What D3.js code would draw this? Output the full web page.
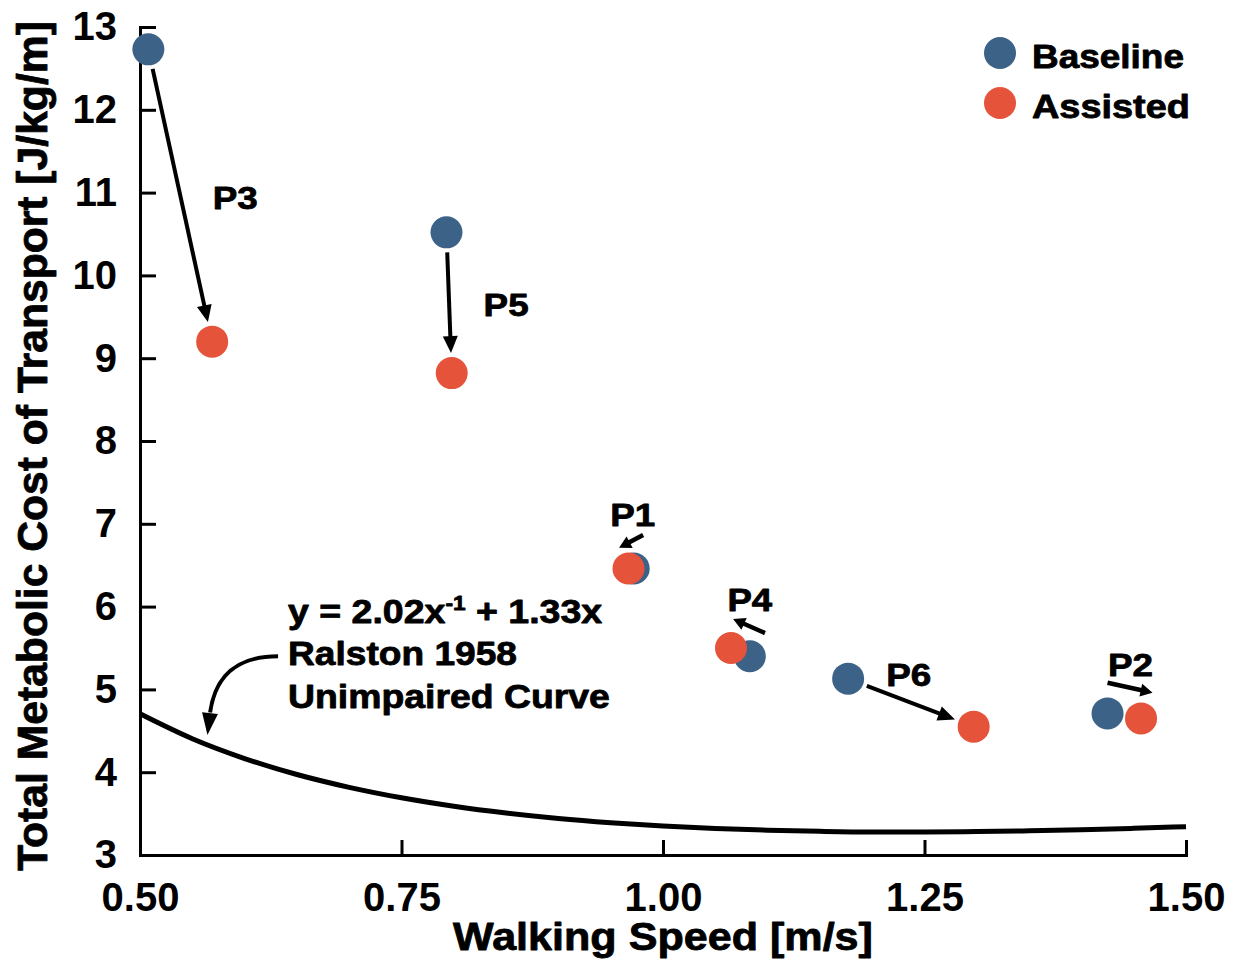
<!DOCTYPE html>
<html>
<head>
<meta charset="utf-8">
<script src="https://cdn.jsdelivr.net/npm/d3@7"></script>
<style>
  html, body { margin: 0; padding: 0; background: #fff; }
  svg { display: block; font-family: "Liberation Sans", Arial, sans-serif; font-weight: bold; }
</style>
</head>
<body>
<svg id="chart" width="1244" height="973"></svg>
<script>
// ---- data ----
const participants   = ["P1", "P2", "P3", "P4", "P5", "P6"];
const baselineSpeed  = [0.972, 1.425, 0.508, 1.083, 0.793, 1.177];
const baselineCOT    = [6.46, 4.71, 12.73, 5.40, 10.52, 5.13];
const assistedSpeed  = [0.967, 1.457, 0.569, 1.065, 0.798, 1.297];
const assistedCOT    = [6.46, 4.65, 9.20, 5.50, 8.82, 4.55];
const connectArrow   = [false, false, true, false, true, true];

// Ralston 1958 unimpaired curve, read along the speed axis
const curveSpeed = [0.50, 0.55, 0.60, 0.65, 0.70, 0.75, 0.80, 0.85, 0.90, 0.95, 1.00,
                    1.05, 1.10, 1.15, 1.20, 1.25, 1.30, 1.35, 1.40, 1.45, 1.50];
const curveCOT   = [4.705, 4.404, 4.165, 3.972, 3.817, 3.691, 3.589, 3.507, 3.441, 3.390, 3.350,
                    3.320, 3.299, 3.286, 3.279, 3.279, 3.283, 3.292, 3.305, 3.322, 3.342];

const xTicks = [0.50, 0.75, 1.00, 1.25, 1.50];
const yTicks = [3, 4, 5, 6, 7, 8, 9, 10, 11, 12, 13];
const seriesNames = ["Baseline", "Assisted"];

// label annotations (data units)
const labelSpeed = [0.971, 1.447, 0.591, 1.083, 0.850, 1.235];
const labelCOT   = [6.99, 5.17, 10.81, 5.96, 9.52, 5.05];
// small direction arrows for overlapping pairs (data units)
const dirArrows = [
  {p: "P1", x0: 0.981, y0: 6.865, x1: 0.958, y1: 6.71},
  {p: "P2", x0: 1.425, y0: 5.08,  x1: 1.468, y1: 4.96},
  {p: "P4", x0: 1.0975, y0: 5.68, x1: 1.067, y1: 5.85}
];

// ---- setup ----
const colors = {Baseline: "#3d6287", Assisted: "#e4533a"};
const svg = d3.select("#chart");
const x = d3.scaleLinear().domain([0.5, 1.5]).range([140, 1186]);
const y = d3.scaleLinear().domain([3, 13]).range([855, 27]);

function stretchText(g, target) {
  const t = g.select("text").node();
  const w = t.getBBox().width;
  const k = target / w;
  const tr = g.attr("data-tr");
  g.attr("transform", tr + ` scale(${k},1)`);
}
function heavy(t, w) {
  return t.attr("stroke", "#000").attr("stroke-width", w).attr("stroke-linejoin", "round");
}

// ---- axes ----
const xAxis = svg.append("g").attr("transform", `translate(0,${y(3)})`)
  .call(d3.axisBottom(x).tickValues(xTicks).tickFormat(d3.format(".2f"))
        .tickSizeInner(-15).tickSizeOuter(0).tickPadding(28));
const yAxis = svg.append("g").attr("transform", `translate(${x(0.5)},0)`)
  .call(d3.axisLeft(y).tickValues(yTicks).tickFormat(d3.format("d"))
        .tickSizeInner(-16).tickSizeOuter(0).tickPadding(23));
[xAxis, yAxis].forEach(a => {
  a.attr("font-family", null).attr("font-size", null);
  a.select(".domain").attr("stroke", "#000").attr("stroke-width", 3).attr("stroke-linecap", "square");
  a.selectAll(".tick line").attr("stroke", "#000").attr("stroke-width", 3);
  a.selectAll(".tick text").attr("fill", "#000").style("font-size", "40px").style("font-weight", "bold");
});

// axis titles
{
  const g = svg.append("g").attr("data-tr", `translate(${x(1.0)},950)`);
  heavy(g.append("text").attr("text-anchor", "middle").style("font-size", "38px").text("Walking Speed [m/s]"), 0.8);
  stretchText(g, 420);
}
{
  const g = svg.append("g").attr("data-tr", `translate(47,${(y(3) + y(13)) / 2 + 5}) rotate(-90)`);
  heavy(g.append("text").attr("text-anchor", "middle").style("font-size", "43px")
    .text("Total Metabolic Cost of Transport [J/kg/m]"), 0.8);
  stretchText(g, 850);
}

// ---- Ralston curve ----
const curvePts = curveSpeed.map((s, i) => [s, curveCOT[i]]);
svg.append("path")
  .attr("d", d3.line().x(d => x(d[0])).y(d => y(d[1])).curve(d3.curveMonotoneX)(curvePts))
  .attr("fill", "none").attr("stroke", "#000").attr("stroke-width", 5);

// ---- arrow helper ----
function arrow(x0, y0, x1, y1, headLen, headW, sw) {
  const dx = x1 - x0, dy = y1 - y0, L = Math.hypot(dx, dy);
  const ux = dx / L, uy = dy / L;
  const bx = x1 - ux * headLen, by = y1 - uy * headLen;
  svg.append("line").attr("x1", x0).attr("y1", y0).attr("x2", bx + ux * 2).attr("y2", by + uy * 2)
    .attr("stroke", "#000").attr("stroke-width", sw);
  const px = -uy, py = ux;
  svg.append("path")
    .attr("d", `M${x1},${y1}L${bx + px * headW / 2},${by + py * headW / 2}L${bx - px * headW / 2},${by - py * headW / 2}Z`)
    .attr("fill", "#000");
}

// connecting arrows baseline -> assisted
participants.forEach((p, i) => {
  if (!connectArrow[i]) return;
  const bx = x(baselineSpeed[i]), by = y(baselineCOT[i]);
  const ax = x(assistedSpeed[i]), ay = y(assistedCOT[i]);
  const L = Math.hypot(ax - bx, ay - by), ux = (ax - bx) / L, uy = (ay - by) / L;
  arrow(bx + ux * 20, by + uy * 20, ax - ux * 20, ay - uy * 20, 17, 15, 4);
});
// small direction arrows
dirArrows.forEach(a => arrow(x(a.x0), y(a.y0), x(a.x1), y(a.y1), 12, 13, 4.5));

// ---- points ----
svg.append("g").selectAll("circle").data(participants).join("circle")
  .attr("cx", (d, i) => x(baselineSpeed[i])).attr("cy", (d, i) => y(baselineCOT[i]))
  .attr("r", 16).attr("fill", colors.Baseline);
svg.append("g").selectAll("circle").data(participants).join("circle")
  .attr("cx", (d, i) => x(assistedSpeed[i])).attr("cy", (d, i) => y(assistedCOT[i]))
  .attr("r", 16).attr("fill", colors.Assisted);

// participant labels
participants.forEach((p, i) => {
  const g = svg.append("g").attr("data-tr", `translate(${x(labelSpeed[i])},${y(labelCOT[i]) + 1})`);
  heavy(g.append("text").attr("text-anchor", "middle").style("font-size", "32px").text(p), 0.8);
  stretchText(g, 45);
});

// ---- Ralston annotation ----
{
  const ax = 0.6415;
  const g1 = svg.append("g").attr("data-tr", `translate(${x(ax)},${y(5.80)})`);
  const t = heavy(g1.append("text").style("font-size", "33px"), 0.8);
  t.append("tspan").text("y = 2.02x");
  t.append("tspan").attr("dy", -13).style("font-size", "20px").text("-1");
  t.append("tspan").attr("dy", 13).text(" + 1.33x");
  stretchText(g1, 315);
  const g2 = svg.append("g").attr("data-tr", `translate(${x(ax)},${y(5.295)})`);
  heavy(g2.append("text").style("font-size", "33px").text("Ralston 1958"), 0.8);
  stretchText(g2, 229);
  const g3 = svg.append("g").attr("data-tr", `translate(${x(ax)},${y(4.775)})`);
  heavy(g3.append("text").style("font-size", "33px").text("Unimpaired Curve"), 0.8);
  stretchText(g3, 322);

  // curved pointer
  const p0 = [x(0.632), y(5.40)], c1 = [x(0.601), y(5.40)], c2 = [x(0.573), y(5.26)], p1 = [x(0.567), y(4.72)];
  svg.append("path")
    .attr("d", `M${p0}C${c1} ${c2} ${p1}`)
    .attr("fill", "none").attr("stroke", "#000").attr("stroke-width", 4);
  const tip = [x(0.5645), y(4.45)];
  const dx = tip[0] - p1[0], dy = tip[1] - p1[1], L = Math.hypot(dx, dy), ux = dx / L, uy = dy / L;
  const bx = tip[0] - ux * 22, by = tip[1] - uy * 22, hw = 8;
  svg.append("path")
    .attr("d", `M${tip}L${bx - uy * hw},${by + ux * hw}L${bx + uy * hw},${by - ux * hw}Z`)
    .attr("fill", "#000");
}

// ---- legend ----
const legend = svg.append("g").attr("transform", "translate(1000,53)");
seriesNames.forEach((s, i) => {
  legend.append("circle").attr("cx", 0).attr("cy", i * 50).attr("r", 16).attr("fill", colors[s]);
  const g = legend.append("g").attr("data-tr", `translate(32,${i * 50 + 15})`);
  heavy(g.append("text").style("font-size", "33px").text(s), 0.8);
  stretchText(g, s === "Baseline" ? 152 : 158);
});
</script>
</body>
</html>
